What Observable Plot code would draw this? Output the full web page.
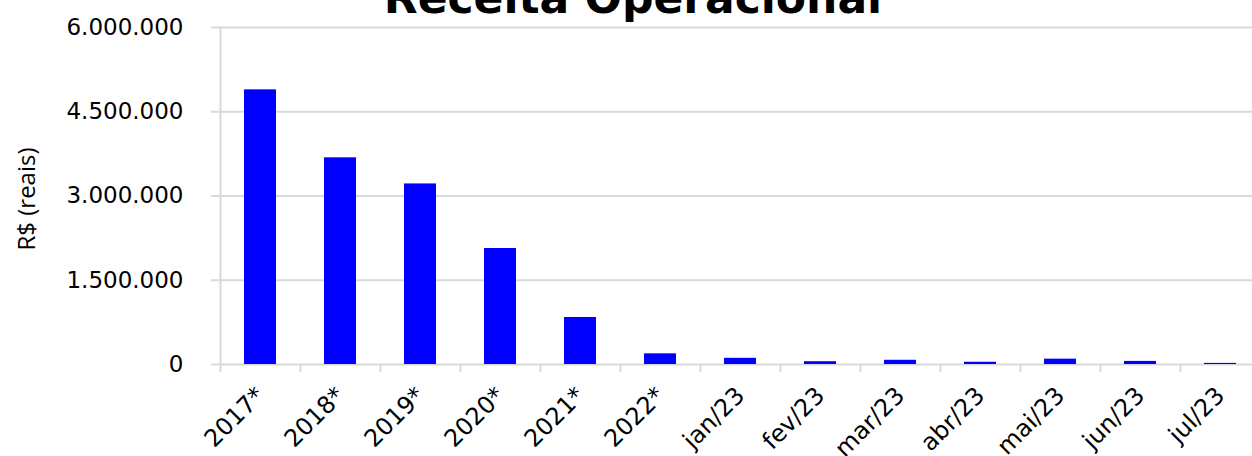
<!DOCTYPE html>
<html>
<head>
<meta charset="utf-8">
<script src="https://cdn.jsdelivr.net/npm/d3@7"></script>
<script src="https://cdn.jsdelivr.net/npm/@observablehq/plot@0.6"></script>
<style>
  html, body { margin: 0; padding: 0; background: #fff; }
  #chart { width: 1252px; height: 456px; overflow: hidden; }
</style>
</head>
<body>
<div id="chart"></div>
<script>
const categories = ["2017*", "2018*", "2019*", "2020*", "2021*", "2022*", "jan/23", "fev/23", "mar/23", "abr/23", "mai/23", "jun/23", "jul/23"];
const values = [4890000, 3680000, 3215000, 2065000, 837000, 190000, 110000, 50000, 75000, 40000, 95000, 55000, 20000];
const yTicks = [0, 1500000, 3000000, 4500000, 6000000];
const title = "Receita Operacional";
const yLabel = "R$ (reais)";

const data = categories.map((c, i) => ({category: c, value: values[i]}));
const fmt = d3.formatLocale({decimal: ",", thousands: ".", grouping: [3], currency: ["R$", ""]}).format(",d");

const grid = "#d9d9d9";
const plot = Plot.plot({
  width: 1252,
  height: 456,
  marginTop: 27,
  marginBottom: 92,
  marginLeft: 220,
  marginRight: 0,
  style: {fontFamily: "DejaVu Sans", background: "#fff", color: "#000"},
  x: {domain: categories, range: [220, 1260], paddingInner: 0.6, paddingOuter: 0.3, label: null},
  y: {domain: [0, 6000000], label: null},
  marks: [
    Plot.gridY(yTicks, {stroke: grid, strokeOpacity: 1, strokeWidth: 2}),
    Plot.frame({anchor: "left", stroke: grid, strokeWidth: 2}),
    Plot.axisY(yTicks, {tickSize: 9, tickPadding: 28, stroke: grid, strokeWidth: 2, tickFormat: fmt, fontSize: 23, fill: "#000", label: null}),
    Plot.axisX({tickSize: 8, dx: -40, stroke: grid, strokeWidth: 2, tickFormat: () => "", label: null}),
    Plot.axisX({tickSize: 0, tickPadding: 27, tickRotate: -45, fontSize: 24, fill: "#000", label: null}),
    Plot.barY(data, {x: "category", y: "value", fill: "#0000ff"})
  ]
});
document.getElementById("chart").appendChild(plot);

const svg = d3.select(plot);
svg.append("text")
  .attr("x", 633).attr("y", 13)
  .attr("text-anchor", "middle")
  .attr("font-family", "DejaVu Sans")
  .attr("font-weight", "bold")
  .attr("font-size", 44)
  .attr("fill", "#000")
  .text(title);
svg.append("text")
  .attr("transform", "translate(25,199) rotate(-90)")
  .attr("text-anchor", "middle")
  .attr("dominant-baseline", "central")
  .attr("font-family", "Open Sans")
  .attr("font-size", 24)
  .attr("fill", "#000")
  .text(yLabel);
</script>
</body>
</html>
